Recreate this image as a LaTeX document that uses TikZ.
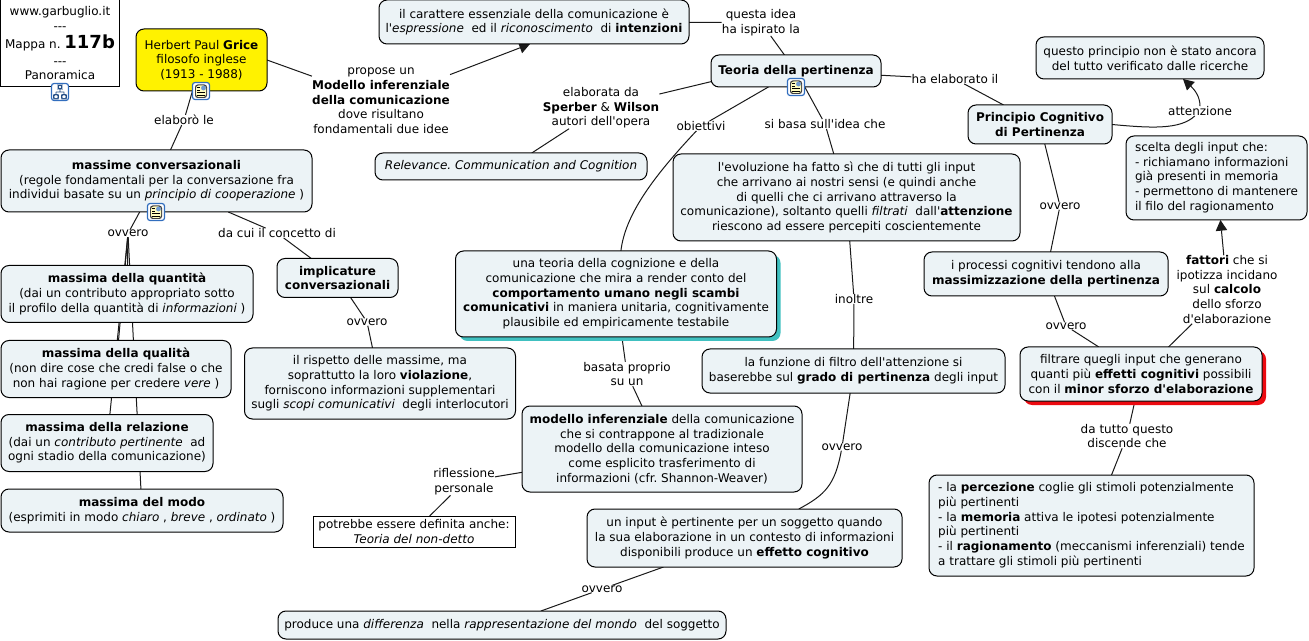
\documentclass[tikz,border=0pt]{standalone}
\usepackage{fontspec}
\newfontfamily\mapfam{DejaVu Sans}
\usetikzlibrary{arrows.meta,shadows,backgrounds}
\definecolor{boxfill}{RGB}{236,243,246}
\definecolor{tealsh}{RGB}{64,192,192}
\definecolor{redsh}{RGB}{236,10,16}
\definecolor{iconblue}{RGB}{50,110,190}
\newcommand{\mapfont}{\mapfam\frenchspacing\fontsize{9}{11}\selectfont}
\tikzset{%
    sz/.style 2 args={minimum width=#1*0.75pt, minimum height=#2*0.75pt},
    con/.style={rectangle, draw=black, line width=0.75pt, rounded corners=6pt, fill=boxfill, align=center, font=\mapfont, inner sep=0pt, outer sep=0pt},
    sharp/.style={rectangle, draw=black, line width=0.75pt, fill=white, align=center, font=\mapfont, inner sep=0pt, outer sep=0pt},
    lab/.style={align=center, font=\mapfont, inner sep=0pt},
    lin/.style={line width=0.75pt, draw=black!90},
    lina/.style={line width=0.75pt, draw=black!90, -{Stealth[length=8pt, width=8.5pt, inset=0pt]}},
    docicon/.style={rectangle, rounded corners=2pt, draw=iconblue, line width=0.9pt, fill=white, minimum size=12.8pt, inner sep=0pt,
        path picture={
            \fill [black!75, shift={(path picture bounding box.center)}] (-6,-6.5) rectangle (6,7);
            \fill [yellow!25, shift={(path picture bounding box.center)}] (-5,-5.5) rectangle (5,6);
            \fill [iconblue!70, shift={(path picture bounding box.center)}] (0,-5.5) rectangle (5,-0.5);
            \draw [black, line width=0.6pt, shift={(path picture bounding box.center)}] (-4,-3.5) -- (-1,-3.5) (-4,-1) -- (-1,-1) (-4,1.5) -- (4,1.5) (-4,4) -- (4,4);
        }},
    treeicon/.style={rectangle, rounded corners=2pt, draw=iconblue, line width=0.9pt, fill=white, minimum size=12.8pt, inner sep=0pt,
        path picture={
            \draw [iconblue!70!black, line width=0.7pt, shift={(path picture bounding box.center)}] (-2,-7) rectangle (2,-3) (0,-3) -- (0,0) (-4,0) -- (4,0) (-4,0) -- (-4,2.5) (4,0) -- (4,2.5) (-6.5,2.5) rectangle (-1.5,7) (1.5,2.5) rectangle (6.5,7);
        }},
}
\begin{document}
\begin{tikzpicture}[x=0.75pt, y=-0.75pt]
    \useasboundingbox (0,0) rectangle (1309,641);
    % concepts, left side
    \node [sharp, sz={119}{87}] (web) at (60,43.5) {www.garbuglio.it\\---\\[2.5pt]Mappa n. {\fontsize{13.5}{11}\selectfont\textbf{117b}}\\[1.5pt]---\\Panoramica};
    \node [con, sz={131}{62}, fill=yellow] (grice) at (201.5,60) {Herbert Paul \textbf{Grice}\\filosofo inglese\\(1913 - 1988)};
    \node [con, sz={311}{62}] (massime) at (156.5,181) {\textbf{massime conversazionali}\\(regole fondamentali per la conversazione fra\\individui basate su un \textit{principio di cooperazione} )};
    \node [con, sz={252}{57}] (quantita) at (127,294) {\textbf{massima della quantità}\\(dai un contributo appropriato sotto\\il profilo della quantità di \textit{informazioni} )};
    \node [con, sz={230}{57}] (qualita) at (116,369) {\textbf{massima della qualità}\\(non dire cose che credi false o che\\non hai ragione per credere \textit{vere} )};
    \node [con, sz={212}{57}] (relazione) at (107,443) {\textbf{massima della relazione}\\(dai un \textit{contributo pertinente}\ \ ad\\ogni stadio della comunicazione)};
    \node [con, sz={282}{43}] (modo) at (142,510.5) {\textbf{massima del modo}\\(esprimiti in modo \textit{chiaro} , \textit{breve} , \textit{ordinato} )};
    \node [con, sz={121}{39}] (implicature) at (337.5,278) {\textbf{implicature}\\\textbf{conversazionali}};
    \node [con, sz={271}{71}] (rispetto) at (380,383.5) {il rispetto delle massime, ma\\soprattutto la loro \textbf{violazione},\\forniscono informazioni supplementari\\sugli \textit{scopi comunicativi}\ \ degli interlocutori};
    % concepts, centre
    \node [con, sz={310}{44}] (carattere) at (534,22) {il carattere essenziale della comunicazione è\\l'\textit{espressione}\ \ ed il \textit{riconoscimento}\ \ di \textbf{intenzioni}};
    \node [con, sz={170}{32}] (teoria) at (796,71) {\textbf{Teoria della pertinenza}};
    \node [con, sz={272}{27}] (relevance) at (511,166.5) {\textit{Relevance. Communication and Cognition}};
    \node [con, sz={347}{87}] (evoluzione) at (846.5,197.5) {l'evoluzione ha fatto sì che di tutti gli input\\che arrivano ai nostri sensi (e quindi anche\\di quelli che ci arrivano attraverso la\\comunicazione), soltanto quelli \textit{filtrati}\ \ dall'\textbf{attenzione}\\riescono ad essere percepiti coscientemente};
    \node [con, sz={321}{86}, copy shadow={shadow xshift=3pt, shadow yshift=-3pt, fill=tealsh, draw=none}] (cognizione) at (616,294) {una teoria della cognizione e della\\comunicazione che mira a render conto del\\\textbf{comportamento umano negli scambi}\\\textbf{comunicativi} in maniera unitaria, cognitivamente\\plausibile ed empiricamente testabile};
    \node [con, sz={280}{86}] (modello) at (662,449) {\textbf{modello inferenziale} della comunicazione\\che si contrappone al tradizionale\\modello della comunicazione inteso\\come esplicito trasferimento di\\informazioni (cfr. Shannon-Weaver)};
    \node [sharp, sz={202}{31}] (potrebbe) at (414,531.5) {potrebbe essere definita anche:\\\textit{Teoria del non-detto}};
    \node [con, sz={303}{44}] (funzione) at (853.5,371) {la funzione di filtro dell'attenzione si\\baserebbe sul \textbf{grado di pertinenza} degli input};
    \node [con, sz={315}{58}] (input) at (744.5,538) {un input è pertinente per un soggetto quando\\la sua elaborazione in un contesto di informazioni\\disponibili produce un \textbf{effetto cognitivo}};
    \node [con, sz={448}{28}] (differenza) at (502,625) {produce una \textit{differenza}\ \ nella \textit{rappresentazione del mondo}\ \ del soggetto};
    % concepts, right side
    \node [con, sz={144}{39}] (princog) at (1040,124.5) {\textbf{Principio Cognitivo}\\\textbf{di Pertinenza}};
    \node [con, sz={228}{42}] (questo) at (1150,58) {questo principio non è stato ancora\\del tutto verificato dalle ricerche};
    \node [con, sz={181}{84}] (scelta) at (1216.5,178) {\begin{tabular}{@{}l@{}}scelta degli input che:\\- richiamano informazioni\\già presenti in memoria\\- permettono di mantenere\\il filo del ragionamento\end{tabular}};
    \node [con, sz={244}{44}] (processi) at (1046,274) {i processi cognitivi tendono alla\\\textbf{massimizzazione della pertinenza}};
    \node [con, sz={242}{54}, copy shadow={shadow xshift=3pt, shadow yshift=-3pt, fill=redsh, draw=none}] (filtrare) at (1141,374) {filtrare quegli input che generano\\quanti più \textbf{effetti cognitivi} possibili\\con il \textbf{minor sforzo d'elaborazione}};
    \node [con, sz={325}{101}] (percezione) at (1091.5,525.5) {\begin{tabular}{@{}l@{}}- la \textbf{percezione} coglie gli stimoli potenzialmente\\più pertinenti\\- la \textbf{memoria} attiva le ipotesi potenzialmente\\più pertinenti\\- il \textbf{ragionamento} (meccanismi inferenziali) tende\\a trattare gli stimoli più pertinenti\end{tabular}};
    % link labels
    \node [lab] (lpropose) at (381,101) {propose un\\\textbf{Modello inferenziale}\\\textbf{della comunicazione}\\dove risultano\\fondamentali due idee};
    \node [lab] (lelaboro) at (184,120) {elaborò le};
    \node [lab] (lovvero) at (128,233.5) {ovvero};
    \node [lab] (ldacui) at (277,233) {da cui il concetto di};
    \node [lab] (lovveroimp) at (367,322) {ovvero};
    \node [lab] (lquesta) at (761,22.5) {questa idea\\ha ispirato la};
    \node [lab] (lelaborata) at (601,108) {elaborata da\\\textbf{Sperber} \& \textbf{Wilson}\\autori dell'opera};
    \node [lab] (lobiettivi) at (701,126) {obiettivi};
    \node [lab] (lbasa) at (825,124) {si basa sull'idea che};
    \node [lab] (lhaelab) at (955,79) {ha elaborato il};
    \node [lab] (lattenzione) at (1200,111) {attenzione};
    \node [lab] (lovveropc) at (1060,206) {ovvero};
    \node [lab] (linoltre) at (854,299) {inoltre};
    \node [lab] (lbasata) at (627,374) {basata proprio\\su un};
    \node [lab] (lovverofun) at (842,447) {ovvero};
    \node [lab] (lrifl) at (464,482) {riflessione\\personale};
    \node [lab] (lovveroinp) at (602,589) {ovvero};
    \node [lab] (lovveropr) at (1066,326) {ovvero};
    \node [lab] (lfattori) at (1227,289.5) {\textbf{fattori} che si\\ipotizza incidano\\sul \textbf{calcolo}\\dello sforzo\\d'elaborazione};
    \node [lab] (ldatutto) at (1127,436) {da tutto questo\\discende che};
    % icons
    \node [treeicon] (iconweb) at (60,92) {};
    \node [docicon] (icongrice) at (201,91) {};
    \node [docicon] (iconmassime) at (156,212) {};
    \node [docicon] (iconteoria) at (796,87) {};
    % free ends of the arrows
    \coordinate (tipq) at (1183,79);
    % links, behind the boxes
    \begin{scope}[on background layer]
        \draw [lin] (grice) -- (lelaboro) -- (massime);
        \draw [lin] (grice.east) -- (lpropose);
        \draw [lina] (lpropose) -- ([xshift=-3pt]carattere.south);
        \draw [lin] (massime) -- (lovvero);
        \draw [lin] (lovvero) -- (quantita);
        \draw [lin] (lovvero) -- (qualita);
        \draw [lin] (lovvero) -- (relazione);
        \draw [lin] (lovvero) -- (modo);
        \draw [lin] (massime) -- (ldacui) -- (implicature) -- (lovveroimp) -- (rispetto);
        \draw [lin] (carattere) -- (lquesta) -- (teoria);
        \draw [lin] ([yshift=4pt]teoria.south west) -- (lelaborata) -- (relevance);
        \draw [lin] (teoria) -- (lobiettivi);
        \draw [lin] (lobiettivi) .. controls (653,177) and (625,215) .. (cognizione);
        \draw [lin] (teoria) -- (lbasa) -- (evoluzione);
        \draw [lin] (evoluzione) -- (linoltre) -- (funzione);
        \draw [lin] (cognizione) -- (lbasata) -- (modello);
        \draw [lin] (modello) -- (lrifl) -- (potrebbe);
        \draw [lin] (funzione) -- (lovverofun);
        \draw [lin] (lovverofun) .. controls (835,485) and (825,495) .. (input);
        \draw [lin] (input) -- (lovveroinp) -- (differenza);
        \draw [lin] (teoria) -- (lhaelab) -- (princog);
        \draw [lin] (princog.east) .. controls (1150,128) and (1180,130) .. (lattenzione);
        \draw [lina] (lattenzione) .. controls (1200,97) and (1195,90) .. (tipq);
        \draw [lin] (princog) -- (lovveropc) -- (processi);
        \draw [lin] (processi) -- (lovveropr) -- (filtrare);
        \draw [lin] (filtrare) -- (lfattori);
        \draw [lina] (lfattori) -- (scelta);
        \draw [lin] (filtrare) -- (ldatutto) -- (percezione);
    \end{scope}
\end{tikzpicture}
\end{document}
